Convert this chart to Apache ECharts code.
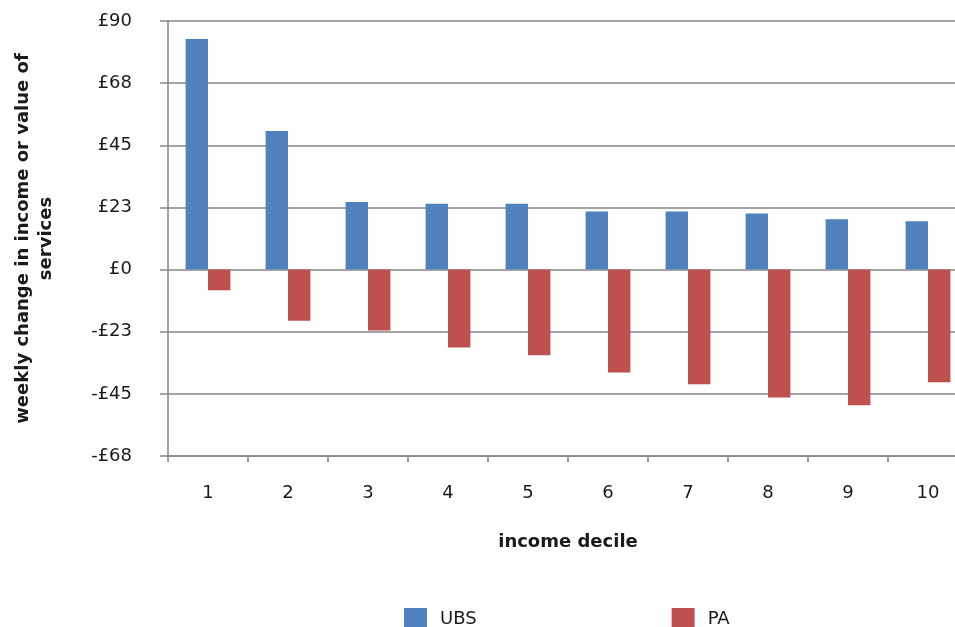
<!DOCTYPE html>
<html>
<head>
<meta charset="utf-8">
<script src="https://cdn.jsdelivr.net/npm/echarts@6/dist/echarts.min.js"></script>
<style>html,body{margin:0;padding:0;background:#fff;}#c{width:955px;height:627px;}</style>
</head>
<body>
<div id="c"></div>
<script>
const categories = ['1','2','3','4','5','6','7','8','9','10'];
const ubs = [83.5, 50.2, 24.5, 23.8, 23.8, 21.0, 21.0, 20.3, 18.2, 17.5];
const pa = [-7.5, -18.5, -22.1, -28.2, -31.0, -37.3, -41.5, -46.3, -49.1, -40.8];
const yTickValues = [-67.5, -45, -22.5, 0, 22.5, 45, 67.5, 90];
const yTickLabels = ['-£68', '-£45', '-£23', '£0', '£23', '£45', '£68', '£90'];

const FONT = 'DejaVu Sans';
const grey = '#868686';
const chart = echarts.init(document.getElementById('c'));
chart.setOption({
  animation: false,
  textStyle: { fontFamily: FONT },
  grid: { left: 168, width: 800, top: 21, bottom: 171, containLabel: false, outerBoundsMode: 'none' },
  legend: {
    bottom: -8, left: 399,
    itemWidth: 23, itemHeight: 22, itemGap: 195,
    icon: 'rect',
    textStyle: { fontFamily: FONT, fontSize: 18, color: '#1a1a1a', padding: [0,0,0,8] },
    data: ['UBS', 'PA']
  },
  xAxis: {
    type: 'category',
    data: categories,
    name: 'income decile',
    nameLocation: 'middle',
    nameGap: 77,
    nameTextStyle: { fontFamily: FONT, fontSize: 18, fontWeight: 'bold', color: '#1a1a1a', verticalAlign: 'top' },
    axisLine: { onZero: false, lineStyle: { color: grey, width: 1.5 } },
    axisTick: { show: true, length: 6, lineStyle: { color: grey, width: 1.5 } },
    axisLabel: { margin: 28, fontFamily: FONT, fontSize: 18, color: '#1a1a1a' },
    splitLine: { show: false }
  },
  yAxis: {
    type: 'value',
    min: -67.5, max: 90, interval: 22.5,
    name: 'weekly change in income or value of\nservices',
    nameLocation: 'middle',
    nameRotate: 90,
    nameGap: 110,
    nameTextStyle: { fontFamily: FONT, fontSize: 18, fontWeight: 'bold', color: '#1a1a1a', lineHeight: 23, align: 'center' },
    axisLine: { show: true, lineStyle: { color: grey, width: 1.5 } },
    axisTick: { show: true, length: 8, lineStyle: { color: grey, width: 1.5 } },
    axisLabel: {
      margin: 36, fontFamily: FONT, fontSize: 18, color: '#1a1a1a',
      formatter: function (v) {
        const i = yTickValues.findIndex(t => Math.abs(t - v) < 1e-6);
        return i >= 0 ? yTickLabels[i] : '';
      }
    },
    splitLine: { show: true, lineStyle: { color: grey, width: 1.5 } }
  },
  series: [
    { name: 'UBS', type: 'bar', data: ubs, barWidth: '28%', barGap: '0%', itemStyle: { color: '#4f81bd' } },
    { name: 'PA', type: 'bar', data: pa, barWidth: '28%', barGap: '0%', itemStyle: { color: '#c0504d' } }
  ]
});
</script>
</body>
</html>
